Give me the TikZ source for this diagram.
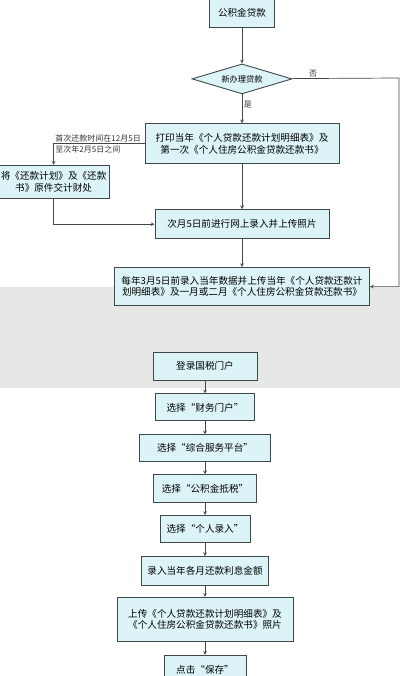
\documentclass[tikz,border=0pt]{standalone}
\usepackage{fontspec}
\setmainfont{Noto Sans CJK SC}
\usetikzlibrary{arrows, positioning, shapes.geometric}
\definecolor{boxfill}{RGB}{220,244,247}
\definecolor{boxline}{RGB}{64,72,76}
\definecolor{bandgray}{RGB}{230,232,230}

\begin{document}
\begin{tikzpicture}[x=1pt, y=-1pt, >=stealth, font=\fontsize{9.6}{11.5}\selectfont,
	proc/.style={draw=boxline, fill=boxfill, line width=0.9pt, inner sep=2pt, align=center},
	decide/.style={diamond, aspect=3.4, draw=boxline, fill=boxfill, line width=0.9pt, inner sep=0pt, minimum width=100pt, minimum height=30pt, font=\fontsize{8.2}{10}\selectfont},
	note/.style={font=\fontsize{8}{10.5}\selectfont, inner sep=1.5pt, text=black!80},
	link/.style={->, draw=boxline, line width=0.7pt}]

\useasboundingbox (0,0) rectangle (400,676);
\fill[bandgray] (0,287) rectangle (400,388);

% upper part
\node[proc, minimum width=65pt, minimum height=28pt] (loan) at (242,13) {公积金贷款};
\node[decide, below=36pt of loan] (ask) {新办理贷款};
\node[proc, below=29pt of ask, minimum width=194pt, minimum height=40pt] (print) {打印当年《个人贷款还款计划明细表》及\\第一次《个人住房公积金贷款还款书》};
\node[proc, left=35pt of print, yshift=-38pt, minimum width=111pt, minimum height=33pt] (repay) {将《还款计划》及《还款\\书》原件交计财处};
\node[proc, below=45pt of print, minimum width=174pt, minimum height=29pt] (upload) {次月5日前进行网上录入并上传照片};
\node[proc, below=28pt of upload, minimum width=255pt, minimum height=38pt] (yearly) {每年3月5日前录入当年数据并上传当年《个人贷款还款计\\划明细表》及一月或二月《个人住房公积金贷款还款书》};
\coordinate (noturn) at (399,78);

% lower part
\node[proc, minimum width=104pt, minimum height=28pt] (login) at (205,366) {登录国税门户};
\node[proc, below=13pt of login, minimum width=99pt, minimum height=27pt] (finance) {选择“财务门户”};
\node[proc, below=13pt of finance, minimum width=131pt, minimum height=27pt] (service) {选择“综合服务平台”};
\node[proc, below=12pt of service, minimum width=103pt, minimum height=28pt] (tax) {选择“公积金抵税”};
\node[proc, below=12pt of tax, minimum width=90pt, minimum height=27pt] (personal) {选择“个人录入”};
\node[proc, below=13pt of personal, minimum width=127pt, minimum height=29pt] (amount) {录入当年各月还款利息金额};
\node[proc, below=11pt of amount, minimum width=176pt, minimum height=44pt] (photo) {上传《个人贷款还款计划明细表》及\\《个人住房公积金贷款还款书》照片};
\node[proc, below=13pt of photo, minimum width=82pt, minimum height=30pt] (save) {点击“保存”};

\draw[link] (loan) -- (ask);
\draw[link] (ask) -- node[note, right, pos=0.35] {是} (print);
\draw[link] (ask) -- node[note, above, pos=0.2] {否} (noturn) |- (yearly);
\draw[link] (print) -| node[note, pos=0.5, anchor=west, align=left] {首次还款时间在12月5日\\至次年2月5日之间} (repay);
\draw[link] (repay) |- (upload);
\draw[link] (print) -- (upload);
\draw[link] (upload) -- (yearly);

\foreach \a/\b in {login/finance, finance/service, service/tax, tax/personal, personal/amount, amount/photo, photo/save}
	\draw[link] (\a) -- (\b);

\end{tikzpicture}
\end{document}
